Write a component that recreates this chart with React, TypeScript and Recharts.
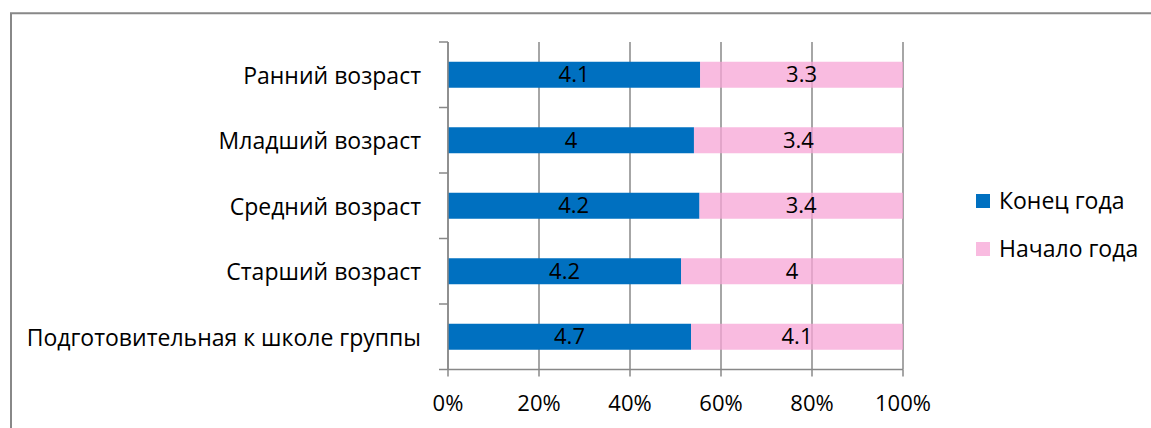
import React from 'react';
import { BarChart, Bar, XAxis, YAxis, CartesianGrid, LabelList } from 'recharts';

const categories = [
  'Ранний возраст',
  'Младший возраст',
  'Средний возраст',
  'Старший возраст',
  'Подготовительная к школе группы',
];
const endOfYear = [4.1, 4, 4.2, 4.2, 4.7];
const startOfYear = [3.3, 3.4, 3.4, 4, 4.1];
const seriesNames = ['Конец года', 'Начало года'];
const seriesColors = ['#0070C0', '#F9BBE0'];
const xTicks = [0, 0.2, 0.4, 0.6, 0.8, 1];

const data = categories.map((name, i) => ({
  name,
  end: endOfYear[i],
  start: startOfYear[i],
}));

const W = 1151;
const H = 428;
const MARGIN = { top: 42, right: 248, bottom: 8.5, left: 0 };
const X_AXIS_H = 50;
const Y_AXIS_W = 448;
const PLOT_H = H - MARGIN.top - MARGIN.bottom - X_AXIS_H;
const BAND = PLOT_H / categories.length;
const TICK_SIZE = 9;
const TICK_MARGIN = 18;
const FONT = "'Open Sans', 'Noto Sans', sans-serif";
const FS = 23;
const FS_SMALL = 22;
const GRAY = '#888888';

const CategoryTick = (props: any) => {
  const { x, y, payload, index } = props;
  const axisX = x + TICK_SIZE + TICK_MARGIN;
  return (
    <g>
      <line x1={axisX - TICK_SIZE} x2={axisX} y1={y - BAND / 2} y2={y - BAND / 2} stroke={GRAY} strokeWidth={1.5} />
      {index === categories.length - 1 && (
        <line x1={axisX - TICK_SIZE} x2={axisX} y1={y + BAND / 2} y2={y + BAND / 2} stroke={GRAY} strokeWidth={1.5} />
      )}
      <text x={x} y={y} textAnchor="end" dominantBaseline="central" fill="#000" fontSize={FS} fontFamily={FONT}>
        {payload.value}
      </text>
    </g>
  );
};

export default function App() {
  return (
    <div
      style={{
        position: 'fixed',
        left: 0,
        top: 0,
        width: W,
        height: H,
        overflow: 'hidden',
        background: '#fff',
        fontFamily: FONT,
      }}
    >
      <svg width={W} height={H} style={{ position: 'absolute', left: 0, top: 0 }}>
        <path d={`M11 ${H} V13.3 H${W}`} fill="none" stroke={GRAY} strokeWidth={2} />
      </svg>
      <div style={{ position: 'absolute', left: 0, top: 0 }}>
        <BarChart
          width={W}
          height={H}
          data={data}
          layout="vertical"
          stackOffset="expand"
          margin={MARGIN}
          barCategoryGap="30%"
        >
          <CartesianGrid horizontal={false} vertical={true} stroke={GRAY} strokeWidth={1.5} />
          <XAxis
            type="number"
            domain={[0, 1]}
            ticks={xTicks}
            tickFormatter={(v: number) => `${Math.round(v * 100)}%`}
            height={X_AXIS_H}
            axisLine={{ stroke: GRAY, strokeWidth: 1.5 }}
            tickLine={{ stroke: GRAY, strokeWidth: 1.5 }}
            tickSize={7}
            tickMargin={19}
            tick={{ fill: '#000', fontSize: FS_SMALL, fontFamily: FONT }}
            interval={0}
          />
          <YAxis
            type="category"
            dataKey="name"
            width={Y_AXIS_W}
            axisLine={{ stroke: GRAY, strokeWidth: 1.5 }}
            tickLine={false}
            tickSize={TICK_SIZE}
            tickMargin={TICK_MARGIN}
            tick={<CategoryTick />}
            interval={0}
          />
          <Bar dataKey="end" name={seriesNames[0]} stackId="a" fill={seriesColors[0]} isAnimationActive={false}>
            <LabelList dataKey="end" position="center" fill="#000" fontSize={FS_SMALL} fontFamily={FONT} />
          </Bar>
          <Bar
            dataKey="start"
            name={seriesNames[1]}
            stackId="a"
            fill="#F7A4D6"
            fillOpacity={0.75}
            isAnimationActive={false}
          >
            <LabelList dataKey="start" position="center" fill="#000" fontSize={FS_SMALL} fontFamily={FONT} />
          </Bar>
        </BarChart>
      </div>
      {seriesNames.map((n, i) => (
        <div
          key={n}
          style={{
            position: 'absolute',
            left: 976,
            top: 193 + i * 48,
            height: 15,
            display: 'flex',
            alignItems: 'center',
            whiteSpace: 'nowrap',
          }}
        >
          <div style={{ width: 14, height: 14, background: seriesColors[i], marginRight: 9, flexShrink: 0 }} />
          <span style={{ fontSize: FS, color: '#000', lineHeight: '15px' }}>{n}</span>
        </div>
      ))}
    </div>
  );
}
